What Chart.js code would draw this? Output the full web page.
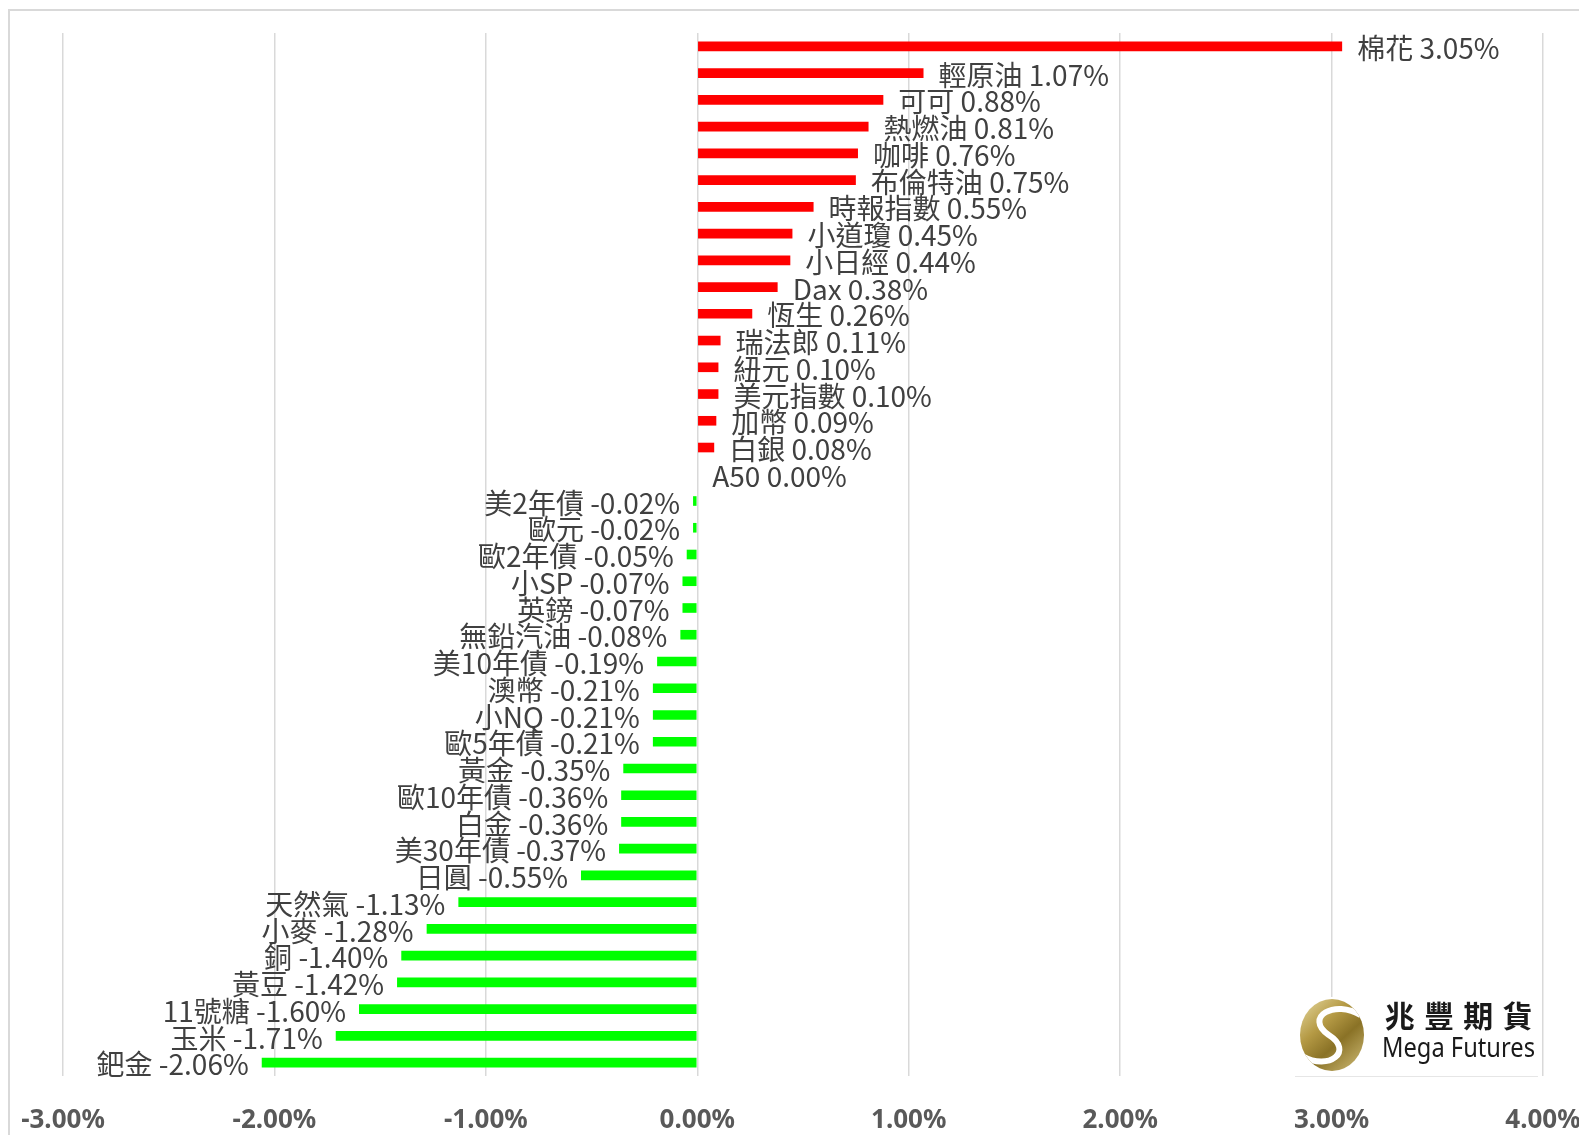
<!DOCTYPE html>
<html><head><meta charset="utf-8">
<script src="https://cdn.jsdelivr.net/npm/chart.js@4.4.1/dist/chart.umd.min.js"></script>
<style>html,body{margin:0;padding:0;background:#fff;overflow:hidden}#wrap{width:1579px;height:1135px;position:relative}canvas{display:block}</style>
</head><body><div id="wrap"><canvas id="c" width="1579" height="1135"></canvas></div>
<script>
const categories = ['棉花','輕原油','可可','熱燃油','咖啡','布倫特油','時報指數','小道瓊','小日經','Dax','恆生','瑞法郎','紐元','美元指數','加幣','白銀','A50','美2年債','歐元','歐2年債','小SP','英鎊','無鉛汽油','美10年債','澳幣','小NQ','歐5年債','黃金','歐10年債','白金','美30年債','日圓','天然氣','小麥','銅','黃豆','11號糖','玉米','鈀金'];
const values = [3.05,1.07,0.88,0.81,0.76,0.75,0.55,0.45,0.44,0.38,0.26,0.11,0.10,0.10,0.09,0.08,0.00,-0.02,-0.02,-0.05,-0.07,-0.07,-0.08,-0.19,-0.21,-0.21,-0.21,-0.35,-0.36,-0.36,-0.37,-0.55,-1.13,-1.28,-1.40,-1.42,-1.60,-1.71,-2.06];
const xMin = -3, xMax = 4, xStep = 1;

const POS = '#ff0000', NEG = '#00ff00';
const LABEL_FONT = '28px "Noto Sans CJK TC", "Noto Sans", sans-serif';

const frame = {
  id: 'frame',
  beforeDraw(chart) {
    const ctx = chart.ctx;
    ctx.save();
    ctx.fillStyle = '#fff';
    ctx.fillRect(0, 0, chart.width, chart.height);
    ctx.strokeStyle = '#d9d9d9';
    ctx.lineWidth = 2;
    ctx.strokeRect(9, 10, 3000, 3000);
    ctx.restore();
  }
};

function drawLogo(ctx) {
  const x0 = 1295, y0 = 997, x1 = 1538, y1 = 1076;
  ctx.save();
  ctx.fillStyle = '#fff';
  ctx.fillRect(x0, y0, x1 - x0, y1 - y0);
  ctx.strokeStyle = '#e6e6e6';
  ctx.lineWidth = 1;
  ctx.beginPath(); ctx.moveTo(x0, y1 + 0.5); ctx.lineTo(x1, y1 + 0.5); ctx.stroke();
  const cx = 1332, cy = 1035, rx = 32, ry = 36;
  ctx.save();
  ctx.beginPath(); ctx.ellipse(cx, cy, rx, ry, 0, 0, Math.PI * 2); ctx.closePath();
  const g = ctx.createLinearGradient(cx - rx, cy - ry, cx + rx, cy + ry);
  g.addColorStop(0, '#e6d9a0'); g.addColorStop(0.35, '#b59a45'); g.addColorStop(0.6, '#8a7226'); g.addColorStop(1, '#d2bf7a');
  ctx.fillStyle = g; ctx.fill();
  ctx.clip();
  ctx.strokeStyle = '#fff'; ctx.lineWidth = 6;
  ctx.beginPath();
  ctx.moveTo(cx + rx * 0.9, cy - ry * 0.55);
  ctx.bezierCurveTo(cx + rx * 0.1, cy - ry * 1.0, cx - rx * 0.9, cy - ry * 0.5, cx - rx * 0.1, cy);
  ctx.bezierCurveTo(cx + rx * 0.7, cy + ry * 0.45, cx - rx * 0.1, cy + ry * 1.0, cx - rx * 0.9, cy + ry * 0.6);
  ctx.stroke();
  ctx.restore();
  ctx.fillStyle = '#1a1a1a';
  ctx.textBaseline = 'middle';
  ctx.font = 'bold 30px "Noto Sans CJK TC", sans-serif';
  const chars = ['兆','豐','期','貨'];
  const cw = (1537 - 1380) / 4;
  chars.forEach((c, i) => { ctx.textAlign = 'center'; ctx.fillText(c, 1380 + cw * (i + 0.5), 1016); });
  ctx.font = '27px "Noto Sans", sans-serif';
  ctx.textAlign = 'left';
  ctx.fillText('Mega Futures', 1382, 1049, 153);
  ctx.restore();
}

const logo = {
  id: 'logo',
  beforeDatasetsDraw(chart) { drawLogo(chart.ctx); }
};

const barLabels = {
  id: 'barLabels',
  afterDatasetsDraw(chart) {
    const ctx = chart.ctx;
    const meta = chart.getDatasetMeta(0);
    ctx.save();
    ctx.font = LABEL_FONT;
    ctx.fillStyle = '#404040';
    ctx.textBaseline = 'middle';
    meta.data.forEach((bar, i) => {
      const v = values[i];
      const txt = categories[i] + ' ' + v.toFixed(2) + '%';
      if (v >= 0) { ctx.textAlign = 'left'; ctx.fillText(txt, bar.x + 15, bar.y + 2); }
      else { ctx.textAlign = 'right'; ctx.fillText(txt, bar.x - 13, bar.y + 2); }
    });
    ctx.restore();
  }
};

new Chart(document.getElementById('c'), {
  type: 'bar',
  data: {
    labels: categories,
    datasets: [{
      data: values,
      backgroundColor: values.map(v => v >= 0 ? POS : NEG),
      borderWidth: 0,
      barPercentage: 0.36,
      categoryPercentage: 1
    }]
  },
  options: {
    indexAxis: 'y',
    responsive: false,
    animation: false,
    devicePixelRatio: 1,
    layout: { padding: { left: 63, right: 36, top: 33, bottom: 2 } },
    plugins: { legend: { display: false }, tooltip: { enabled: false } },
    scales: {
      x: {
        type: 'linear', min: xMin, max: xMax,
        grid: { color: '#d9d9d9', lineWidth: 1.5, drawTicks: false },
        border: { display: false },
        afterFit(s) { s.height = 57; s.paddingLeft = 0; s.paddingRight = 0; },
        ticks: {
          stepSize: xStep, autoSkip: false, maxRotation: 0, padding: 29,
          color: '#595959',
          font: { family: '"Noto Sans", sans-serif', size: 26, weight: 'bold' },
          callback: v => v.toFixed(2) + '%'
        }
      },
      y: { display: false, grid: { display: false } }
    }
  },
  plugins: [frame, logo, barLabels]
});
</script>
</body></html>
